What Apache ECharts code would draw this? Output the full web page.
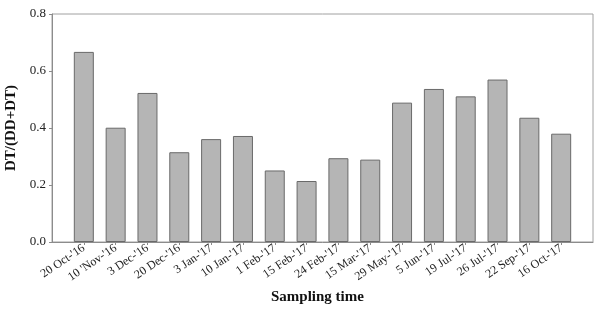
<!DOCTYPE html>
<html>
<head>
<meta charset="utf-8">
<script src="https://cdn.jsdelivr.net/npm/echarts@6/dist/echarts.min.js"></script>
<style>
  html, body { margin: 0; padding: 0; background: #fff; }
  #chart { width: 596px; height: 310px; }
</style>
</head>
<body>
<div id="chart"></div>
<script>
// sampling dates (x categories)
const samplingDates = [
  "20 Oct-'16", "10 'Nov-'16", "3 Dec-'16", "20 Dec-'16", "3 Jan-'17", "10 Jan-'17",
  "1 Feb-'17", "15 Feb-'17", "24 Feb-'17", "15 Mar-'17", "29 May-'17", "5 Jun-'17",
  "19 Jul-'17", "26 Jul-'17", "22 Sep-'17", "16 Oct-'17"
];
// DT/(DD+DT) ratio
const ratioValues = [
  0.667, 0.401, 0.523, 0.315, 0.361, 0.372, 0.251, 0.214,
  0.294, 0.289, 0.489, 0.537, 0.511, 0.570, 0.436, 0.380
];
const yTicks = [0, 0.2, 0.4, 0.6, 0.8];

const chart = echarts.init(document.getElementById("chart"));
const serif = "Liberation Serif";
const positions = samplingDates.map((d, i) => i);

const option = {
  animation: false,
  grid: {
    left: 52, right: 3, top: 14, bottom: 68,
    outerBoundsMode: "none",
    containLabel: false,
    show: true, borderColor: "#a0a0a0", borderWidth: 1
  },
  // value axis so the bars get some padding at both ends, like the original
  xAxis: {
    type: "value",
    min: -1, max: samplingDates.length,
    interval: 1,
    splitLine: { show: false },
    axisLine: { show: true, onZero: false, lineStyle: { color: "#8c8c8c" } },
    axisTick: { show: true, length: 3, customValues: positions, lineStyle: { color: "#8c8c8c" } },
    axisLabel: {
      rotate: 34,
      margin: 5,
      customValues: positions,
      fontFamily: serif, fontSize: 12, color: "#222",
      formatter: (v) => samplingDates[v] || ""
    }
  },
  yAxis: {
    type: "value",
    min: yTicks[0], max: yTicks[yTicks.length - 1], interval: 0.2,
    name: "DT/(DD+DT)",
    nameLocation: "middle",
    nameGap: 33,
    nameTextStyle: { fontFamily: serif, fontSize: 15, fontWeight: "bold", color: "#111" },
    splitLine: { show: false },
    axisLine: { show: true, onZero: false, lineStyle: { color: "#8c8c8c" } },
    axisTick: { show: true, length: 3, lineStyle: { color: "#8c8c8c" } },
    axisLabel: {
      fontFamily: serif, fontSize: 13, color: "#222", margin: 6,
      formatter: (v) => v.toFixed(1)
    }
  },
  graphic: [{
    type: "text",
    left: 271, top: 290,
    style: { text: "Sampling time", font: "bold 15px 'Liberation Serif'", fill: "#111" }
  }],
  series: [{
    type: "bar",
    barWidth: 20,
    data: ratioValues.map((v, i) => [i, v]),
    itemStyle: { color: "#b5b5b5", borderColor: "#6a6a6a", borderWidth: 1 }
  }]
};
chart.setOption(option);
</script>
</body>
</html>
